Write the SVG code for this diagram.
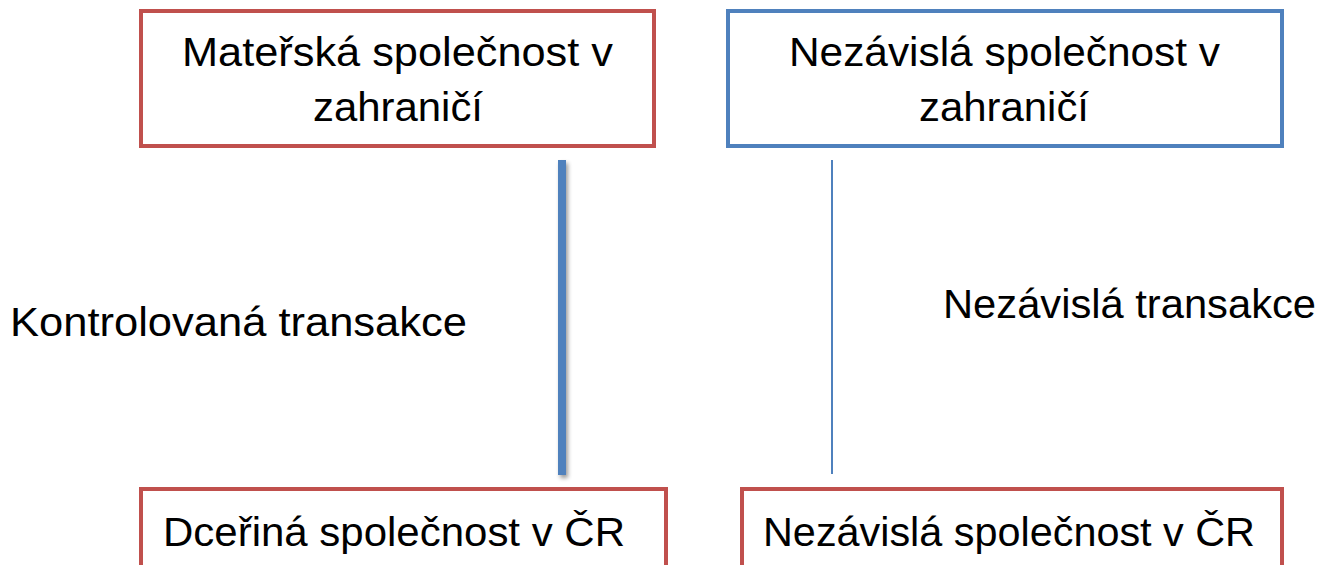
<svg xmlns="http://www.w3.org/2000/svg" width="1321" height="565" viewBox="0 0 1321 565">
<style>
.red{fill:#fff;stroke:#C0504D;stroke-width:4}
.blue{fill:#fff;stroke:#4F81BD;stroke-width:4}
text{font-family:"Liberation Sans",Arial,sans-serif;font-size:40px;fill:#000}
</style>
<defs>
<filter id="sh" filterUnits="userSpaceOnUse" x="540" y="150" width="50" height="340">
<feGaussianBlur in="SourceAlpha" stdDeviation="2"/>
<feOffset dx="2" dy="3"/>
<feComponentTransfer><feFuncA type="linear" slope="0.4"/></feComponentTransfer>
<feMerge><feMergeNode/><feMergeNode in="SourceGraphic"/></feMerge>
</filter>
</defs>
<rect width="1321" height="565" fill="#fff"/>
<g id="connectors">
<rect x="558" y="160" width="8" height="315" fill="#4F81BD" filter="url(#sh)"/>
<line x1="832" y1="160" x2="832" y2="474" stroke="#4F81BD" stroke-width="2"/>
</g>
<g id="parent">
<rect class="red" x="141" y="11" width="513" height="135"/>
<text x="182" y="66" textLength="431" lengthAdjust="spacingAndGlyphs">Mateřská společnost v</text>
<text x="313" y="121" textLength="170" lengthAdjust="spacingAndGlyphs">zahraničí</text>
</g>
<g id="indep-foreign">
<rect class="blue" x="728" y="11" width="554" height="135"/>
<text x="789" y="66" textLength="431" lengthAdjust="spacingAndGlyphs">Nezávislá společnost v</text>
<text x="919" y="121" textLength="170" lengthAdjust="spacingAndGlyphs">zahraničí</text>
</g>
<g id="subsidiary">
<rect class="red" x="141" y="489" width="525" height="100"/>
<text x="163" y="546" textLength="462" lengthAdjust="spacingAndGlyphs">Dceřiná společnost v ČR</text>
</g>
<g id="indep-cz">
<rect class="red" x="742" y="489" width="540" height="100"/>
<text x="763" y="546" textLength="492" lengthAdjust="spacingAndGlyphs">Nezávislá společnost v ČR</text>
</g>
<g id="labels">
<text x="10" y="336" textLength="457" lengthAdjust="spacingAndGlyphs">Kontrolovaná transakce</text>
<text x="943" y="318" textLength="373" lengthAdjust="spacingAndGlyphs">Nezávislá transakce</text>
</g>
</svg>
